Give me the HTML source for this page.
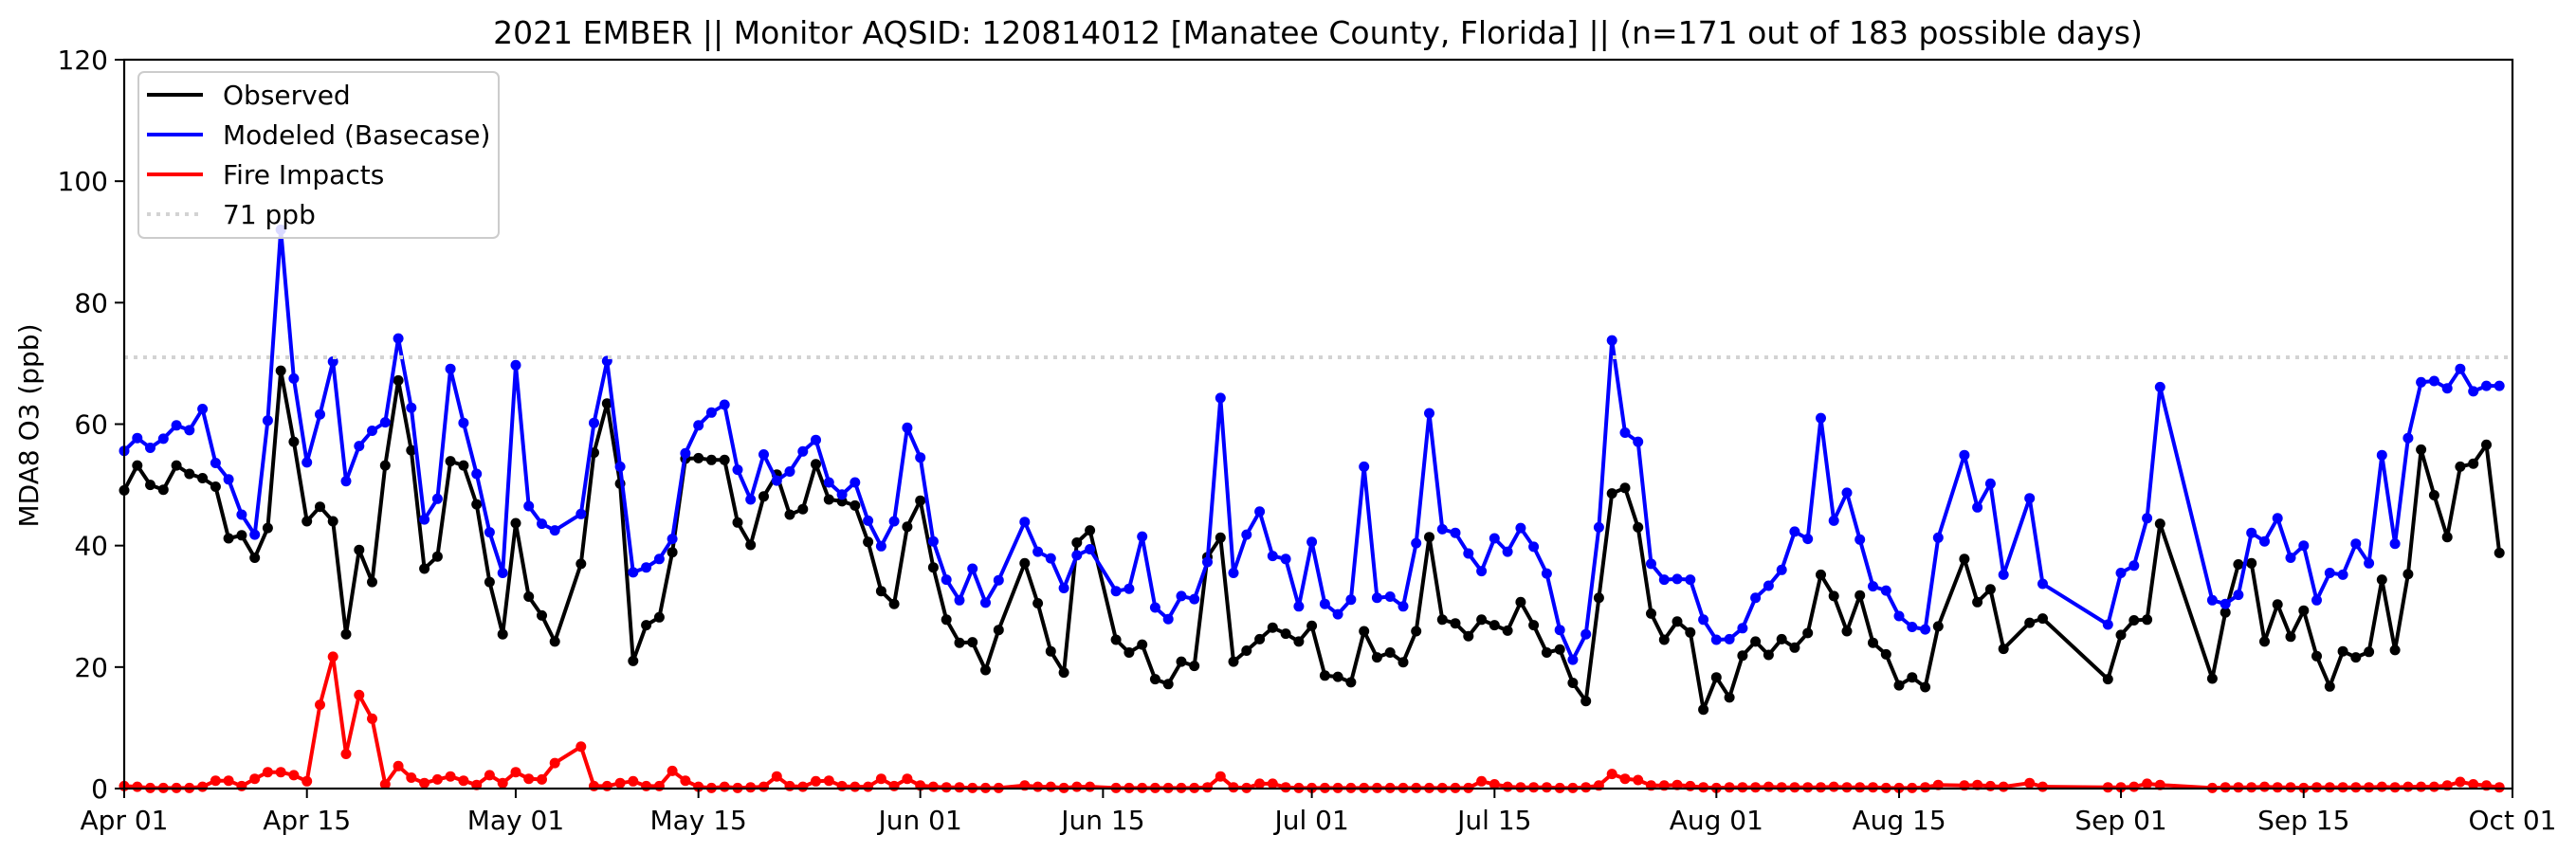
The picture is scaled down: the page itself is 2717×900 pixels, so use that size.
<!DOCTYPE html>
<html><head><meta charset="utf-8"><style>
html,body{margin:0;padding:0;background:#fff;}
svg{display:block;font-family:"DejaVu Sans","Liberation Sans",sans-serif;}
</style></head><body>
<svg id="chart" width="2717" height="900" viewBox="0 0 2717 900" xmlns="http://www.w3.org/2000/svg">
<rect x="0" y="0" width="2717" height="900" fill="#fff"/>
<text x="1390" y="46" font-size="33" text-anchor="middle" fill="#000">2021 EMBER || Monitor AQSID: 120814012 [Manatee County, Florida] || (n=171 out of 183 possible days)</text>
<text x="0" y="0" font-size="28" text-anchor="middle" fill="#000" transform="translate(40,449) rotate(-90)">MDA8 O3 (ppb)</text>
<g id="plot"></g>
<g id="axes"></g>
<g>
<rect x="146" y="76" width="380" height="175" rx="6" fill="#fff" fill-opacity="0.85" stroke="#cccccc" stroke-width="2"/>
<g><line x1="155" y1="100" x2="214" y2="100" stroke="#000" stroke-width="4"/><text x="235" y="110" font-size="28">Observed</text></g>
<g><line x1="155" y1="142" x2="214" y2="142" stroke="#0000ff" stroke-width="4"/><text x="235" y="152" font-size="28">Modeled (Basecase)</text></g>
<g><line x1="155" y1="184" x2="214" y2="184" stroke="#ff0000" stroke-width="4"/><text x="235" y="194" font-size="28">Fire Impacts</text></g>
<g><line x1="155" y1="226" x2="214" y2="226" stroke="#d3d3d3" stroke-width="4" stroke-dasharray="4 6"/><text x="235" y="236" font-size="28">71 ppb</text></g>
</g>
</svg>
<script>
// days since Apr 01 (categories)
const days = [0,1,2,3,4,5,6,7,8,9,10,11,12,13,14,15,16,17,18,19,20,21,22,23,24,25,26,27,28,29,30,31,32,33,
35,36,37,38,39,40,41,42,43,44,45,46,47,48,49,50,51,52,53,54,55,56,57,58,59,60,61,62,63,64,65,66,67,
69,70,71,72,73,74,
76,77,78,79,80,81,82,83,84,85,86,87,88,89,90,91,92,93,94,95,96,97,98,99,100,101,102,103,104,105,106,107,108,109,110,111,112,113,114,115,116,117,118,119,120,121,122,123,124,125,126,127,128,129,130,131,132,133,134,135,136,137,138,139,
141,142,143,144,146,147,152,153,154,155,156,
160,161,162,163,164,165,166,167,168,169,170,171,172,173,174,175,176,177,178,179,180,181,182];
const observed = [49.1,53.2,50.0,49.2,53.2,51.8,51.1,49.7,41.2,41.7,38.0,42.9,68.8,57.1,44.0,46.4,44.0,25.4,39.3,34.0,53.2,67.2,55.7,36.2,38.2,53.9,53.2,46.8,34.0,25.4,43.7,31.6,28.5,24.2,
37.0,55.3,63.4,50.2,21.0,26.9,28.2,38.9,54.3,54.4,54.1,54.1,43.8,40.1,48.1,51.7,45.1,46.0,53.4,47.6,47.3,46.6,40.6,32.5,30.4,43.1,47.4,36.4,27.8,24.0,24.1,19.5,26.1,
37.1,30.5,22.6,19.1,40.5,42.5,
24.5,22.4,23.7,18.0,17.2,20.9,20.2,38.1,41.3,20.9,22.7,24.6,26.5,25.5,24.2,26.8,18.6,18.4,17.5,25.9,21.6,22.4,20.8,25.9,41.4,27.8,27.2,25.1,27.8,26.9,26.0,30.7,26.9,22.4,22.9,17.4,14.4,31.4,48.6,49.5,43.0,28.8,24.5,27.5,25.7,13.0,18.3,15.0,21.9,24.2,22.0,24.6,23.2,25.6,35.2,31.7,25.9,31.8,24.0,22.1,17.0,18.3,16.7,26.7,
37.8,30.7,32.8,23.0,27.3,28.0,18.0,25.3,27.7,27.8,43.6,
18.1,29.0,36.9,37.1,24.2,30.3,25.0,29.3,21.8,16.8,22.6,21.6,22.5,34.4,22.8,35.3,55.8,48.3,41.4,53.0,53.5,56.6,38.8];
const modeled = [55.6,57.7,56.1,57.6,59.8,59.0,62.5,53.6,50.9,45.1,41.8,60.6,92.0,67.5,53.7,61.6,70.3,50.6,56.4,58.9,60.3,74.1,62.7,44.3,47.7,69.1,60.2,51.8,42.2,35.5,69.7,46.5,43.6,42.5,
45.2,60.2,70.4,53.0,35.6,36.4,37.8,41.1,55.2,59.8,61.9,63.2,52.5,47.6,55.0,50.7,52.2,55.5,57.4,50.4,48.4,50.4,44.1,39.9,44.0,59.4,54.5,40.7,34.4,31.0,36.2,30.6,34.3,
43.9,39.0,37.9,33.0,38.4,39.4,
32.5,32.9,41.5,29.8,27.9,31.7,31.2,37.3,64.3,35.5,41.8,45.6,38.3,37.8,30.0,40.6,30.4,28.7,31.1,53.0,31.4,31.6,30.0,40.4,61.8,42.7,42.1,38.7,35.8,41.2,39.0,42.9,39.8,35.4,26.1,21.2,25.4,43.0,73.8,58.6,57.1,37.0,34.4,34.5,34.4,27.8,24.5,24.6,26.4,31.4,33.4,36.0,42.3,41.1,61.0,44.1,48.7,41.0,33.3,32.6,28.4,26.6,26.2,41.3,
54.9,46.3,50.2,35.2,47.8,33.7,27.0,35.5,36.7,44.5,66.1,
31.0,30.4,31.9,42.1,40.7,44.5,38.0,40.0,31.0,35.5,35.2,40.3,37.1,54.9,40.3,57.7,66.9,67.1,65.9,69.1,65.4,66.3,66.3];
const fire = [0.4,0.3,0.1,0.1,0.1,0.1,0.3,1.3,1.3,0.4,1.6,2.7,2.7,2.2,1.2,13.8,21.7,5.7,15.4,11.5,0.7,3.7,1.8,0.9,1.5,2.0,1.3,0.6,2.2,0.9,2.7,1.6,1.5,4.2,
6.9,0.4,0.4,0.9,1.2,0.4,0.4,2.9,1.3,0.3,0.1,0.3,0.1,0.2,0.3,2.0,0.4,0.3,1.2,1.3,0.4,0.3,0.3,1.6,0.4,1.6,0.5,0.3,0.2,0.2,0.1,0.1,0.1,
0.5,0.3,0.3,0.1,0.3,0.3,
0.1,0.1,0.1,0.1,0.1,0.1,0.1,0.2,2.0,0.2,0.1,0.8,0.8,0.2,0.1,0.1,0.1,0.1,0.1,0.1,0.1,0.1,0.1,0.1,0.1,0.1,0.1,0.1,1.2,0.7,0.3,0.2,0.2,0.2,0.1,0.1,0.2,0.5,2.4,1.6,1.4,0.5,0.5,0.6,0.4,0.2,0.1,0.2,0.2,0.2,0.3,0.2,0.2,0.2,0.2,0.3,0.2,0.2,0.2,0.1,0.1,0.1,0.2,0.6,
0.5,0.6,0.4,0.3,0.9,0.3,0.2,0.2,0.3,0.8,0.6,
0.1,0.2,0.2,0.2,0.3,0.2,0.2,0.1,0.2,0.2,0.2,0.2,0.2,0.3,0.2,0.3,0.3,0.3,0.5,1.1,0.7,0.5,0.2];
const xTickDays = [0,14,30,44,61,75,91,105,122,136,153,167,183];
const xTickLabels = ["Apr 01","Apr 15","May 01","May 15","Jun 01","Jun 15","Jul 01","Jul 15","Aug 01","Aug 15","Sep 01","Sep 15","Oct 01"];
const yTicks = [0,20,40,60,80,100,120];
const threshold = 71;

const L=131,R=2650,T=63,B=832,XMAX=183,YMAX=120;
const NS="http://www.w3.org/2000/svg";
function xs(d){return L+(d/XMAX)*(R-L);}
function ys(v){return B-(v/YMAX)*(B-T);}
function mk(tag,attrs,parent){const e=document.createElementNS(NS,tag);for(const k in attrs)e.setAttribute(k,attrs[k]);parent.appendChild(e);return e;}
const plot=document.getElementById('plot'), axes=document.getElementById('axes');

function series(vals,color,name){
  const g=mk('g',{},plot);
  
  
  const pts=days.map((d,i)=>xs(d).toFixed(1)+','+ys(vals[i]).toFixed(1)).join(' ');
  const pl=mk('polyline',{points:pts,fill:'none',stroke:color,'stroke-width':4,'stroke-linejoin':'round'},g);
  
  
  days.forEach((d,i)=>{
    const c=mk('circle',{cx:xs(d).toFixed(1),cy:ys(vals[i]).toFixed(1),r:5.5,fill:color},g);
    
    
  });
}
series(observed,'#000000','observed');
series(modeled,'#0000ff','modeled');
series(fire,'#ff0000','fire-impacts');
const th=mk('line',{x1:L,x2:R,y1:ys(threshold),y2:ys(threshold),stroke:'#d3d3d3','stroke-width':4,'stroke-dasharray':'4 6'},plot);



const frame=mk('rect',{x:L,y:T,width:R-L,height:B-T,fill:'none',stroke:'#000','stroke-width':2.2},axes);


yTicks.forEach(v=>{
  const y=ys(v);
  const tk=mk('line',{x1:L-10,x2:L,y1:y,y2:y,stroke:'#000','stroke-width':2},axes);
  
  
  const t=mk('text',{x:L-17,y:y+10,'font-size':28,'text-anchor':'end',fill:'#000'},axes);
  t.textContent=String(v);
  
  
});
xTickDays.forEach((d,i)=>{
  const x=xs(d);
  const tk=mk('line',{x1:x,x2:x,y1:B,y2:B+10,stroke:'#000','stroke-width':2},axes);
  
  
  const t=mk('text',{x:x,y:B+43,'font-size':28,'text-anchor':'middle',fill:'#000'},axes);
  t.textContent=xTickLabels[i];
  
  
});
</script>
</body></html>
